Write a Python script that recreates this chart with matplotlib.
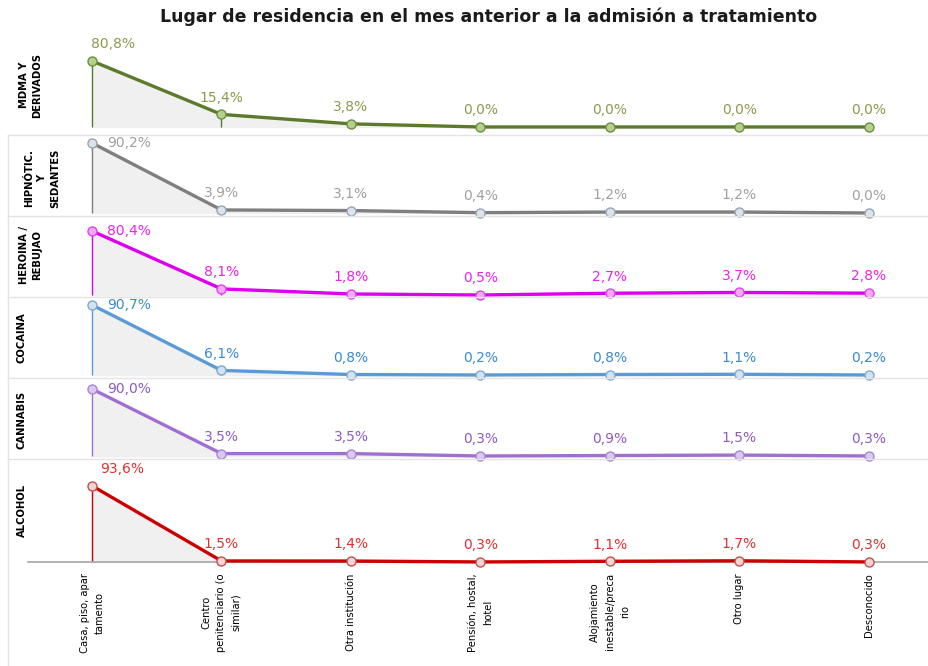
import matplotlib
matplotlib.use("Agg")
import matplotlib.pyplot as plt
from matplotlib.lines import Line2D

W, H = 929, 666

categorias = ["Casa, piso, apar\ntamento",
              "Centro\npenitenciario (o\nsimilar)",
              "Otra institución",
              "Pensión, hostal,\nhotel",
              "Alojamiento\ninestable/preca\nrio",
              "Otro lugar",
              "Desconocido"]

sustancias = ["MDMA Y\nDERIVADOS", "HIPNÓTIC.\nY\nSEDANTES", "HEROINA /\nREBUJAO",
              "COCAINA", "CANNABIS", "ALCOHOL"]

mdma = [80.8, 15.4, 3.8, 0.0, 0.0, 0.0, 0.0]
hipnoticos = [90.2, 3.9, 3.1, 0.4, 1.2, 1.2, 0.0]
heroina = [80.4, 8.1, 1.8, 0.5, 2.7, 3.7, 2.8]
cocaina = [90.7, 6.1, 0.8, 0.2, 0.8, 1.1, 0.2]
cannabis = [90.0, 3.5, 3.5, 0.3, 0.9, 1.5, 0.3]
alcohol = [93.6, 1.5, 1.4, 0.3, 1.1, 1.7, 0.3]
series = [mdma, hipnoticos, heroina, cocaina, cannabis, alcohol]

# line, marker face, marker edge, label colour
colores = [("#5b7a2b", "#b5cf8f", "#6e8f3e", "#8c9a50"),
           ("#7f7f7f", "#dce3ee", "#9aa4b0", "#a0a0a0"),
           ("#dd00ee", "#f5a8f5", "#dd44ee", "#ee22ee"),
           ("#5b9bd5", "#d3e2f2", "#7fa8d0", "#3a8ad0"),
           ("#a070d0", "#d9c8ef", "#a887d0", "#8e5cbf"),
           ("#cc0000", "#f7d4d4", "#c05050", "#e03030")]

# panel pixel boxes (top, bottom) and y limits
paneles = [(28, 134, -8.6, 121.2),
           (137, 215, -2.6, 97.9),
           (218, 297, -2.0, 96.6),
           (299, 377, -2.4, 98.4),
           (380, 458, -2.4, 102.0),
           (461, 563, -1.0, 124.0)]
# y label centre in pixels
ylab_pos = [(31, 85), (42, 178), (31, 255), (22, 338), (22, 420), (22, 510)]
# first label offsets (dx, dy in points, ha)
primer = [(15, 12, "center"), (11, 0, "left"), (11, 0, "left"),
          (11, 0, "left"), (11, 0, "left"), (22, 12, "center")]

fig = plt.figure(figsize=(W / 100, H / 100), dpi=100)
x = list(range(len(categorias)))
xl, xr = 28, 929

for i, (vals, (lc, mf, me, tc), (top, bot, y0, y1)) in enumerate(zip(series, colores, paneles)):
    ax = fig.add_axes([xl / W, 1 - bot / H, (xr - xl) / W, (bot - top) / H])
    ax.set_xlim((xl - 92) / 129.5, (xr - 92) / 129.5)
    ax.set_ylim(y0, y1)
    ax.fill_between(x, 0, vals, color="#f0f0f0", zorder=1)
    ax.vlines(x, 0, vals, color=lc, lw=1, zorder=2)
    ax.plot(x, vals, color=lc, lw=2.4, marker="o", ms=6.5,
            mfc=mf, mec=me, mew=1, zorder=3, clip_on=False)
    for j, v in enumerate(vals):
        txt = f"{v:.1f}%".replace(".", ",")
        if j == 0:
            dx, dy, ha = primer[i]
        else:
            dx, dy, ha = 0, 12, "center"
        ax.annotate(txt, (j, v), xytext=(dx, dy), textcoords="offset points",
                    ha=ha, va="center", fontsize=10, color=tc)
    for s in ax.spines.values():
        s.set_visible(False)
    ax.set_yticks([])
    ax.patch.set_alpha(0)
    if i == len(series) - 1:
        ax.spines["bottom"].set_visible(True)
        ax.spines["bottom"].set_color("#a6a6a6")
        ax.spines["bottom"].set_linewidth(1.2)
        ax.spines["bottom"].set_position(("data", 0))
        ax.set_xticks(x)
        ax.set_xticklabels(categorias, rotation=90, multialignment="center",
                           fontsize=8, fontstretch="condensed", linespacing=1.6)
        ax.tick_params(axis="x", length=0, pad=8)
    else:
        ax.set_xticks([])
    px, py = ylab_pos[i]
    fig.text(px / W, 1 - py / H, sustancias[i], rotation=90, ha="center", va="center",
             multialignment="center", fontsize=8, fontweight="bold", fontstretch="condensed",
             linespacing=1.4)

# panel separators
for yy in [135, 216, 297, 378, 459]:
    fig.add_artist(Line2D([8 / W, 1], [1 - yy / H] * 2, color="#e4e4e4", lw=1))
fig.add_artist(Line2D([8 / W] * 2, [1 - 135 / H, 0], color="#e4e4e4", lw=1))

fig.text(489 / W, 1 - 17 / H, "Lugar de residencia en el mes anterior a la admisión a tratamiento",
         ha="center", va="center", fontsize=12.5, fontweight="bold", color="#1a1a1a")

fig.savefig("out.png", dpi=100)
